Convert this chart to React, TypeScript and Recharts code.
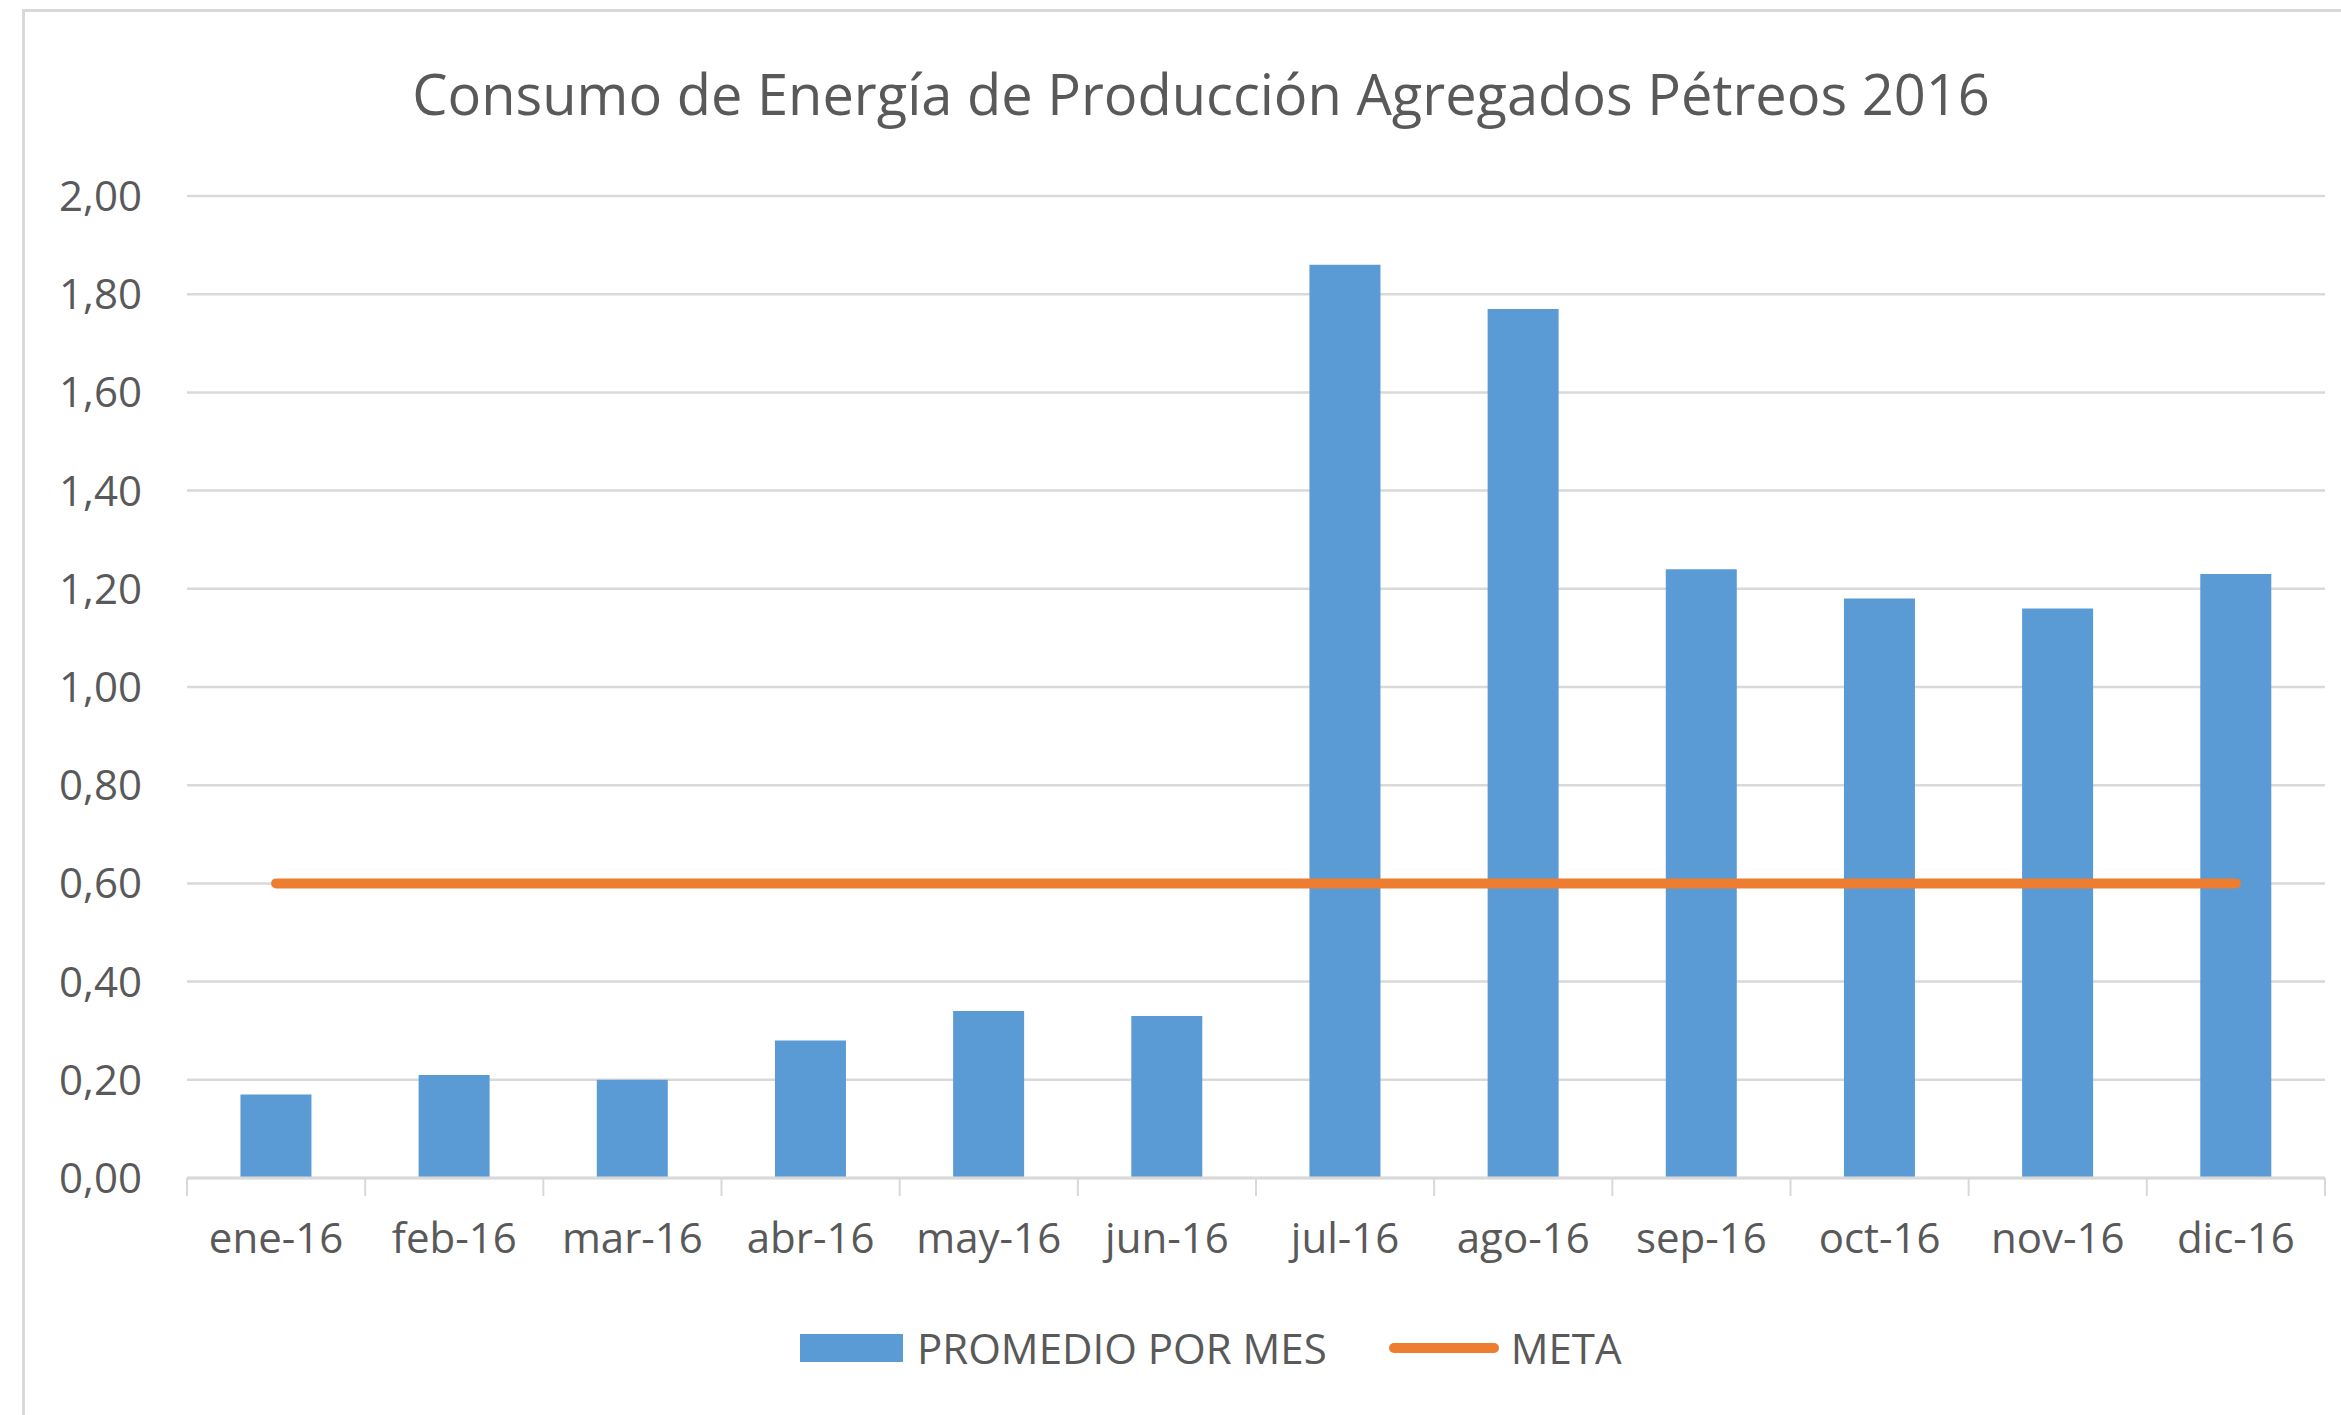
import {
    Bar,
    CartesianGrid,
    ComposedChart,
    Line,
    XAxis,
    YAxis,
} from "recharts";

// Consumo de energía por mes, 2016
const months = [
    "ene-16", "feb-16", "mar-16", "abr-16", "may-16", "jun-16",
    "jul-16", "ago-16", "sep-16", "oct-16", "nov-16", "dic-16",
];
const promedio = [0.17, 0.21, 0.2, 0.28, 0.34, 0.33, 1.86, 1.77, 1.24, 1.18, 1.16, 1.23];
const meta = [0.6, 0.6, 0.6, 0.6, 0.6, 0.6, 0.6, 0.6, 0.6, 0.6, 0.6, 0.6];
const yTicks = [0, 0.2, 0.4, 0.6, 0.8, 1.0, 1.2, 1.4, 1.6, 1.8, 2.0];

const title = "Consumo de Energía de Producción Agregados Pétreos 2016";
const seriesNames = ["PROMEDIO POR MES", "META"];

const data = months.map((m, i) => ({ month: m, promedio: promedio[i], meta: meta[i] }));

const BLUE = "#5B9BD5";
const ORANGE = "#ED7D31";
const GRID = "#d9d9d9";
const TEXT = "#595959";
const FONT = "'Open Sans', sans-serif";

// month label plus the small marks between categories (Excel style)
function MonthTick(props: any) {
    const { x, y, payload, index } = props;
    const half = payload && payload.offset ? payload.offset : 0;
    const last = index === months.length - 1;
    return (
        <g>
            {half > 0 && (
                <line x1={x - half} x2={x - half} y1={y} y2={y + 18} stroke={GRID} strokeWidth={2} />
            )}
            {half > 0 && last && (
                <line x1={x + half} x2={x + half} y1={y} y2={y + 18} stroke={GRID} strokeWidth={2} />
            )}
            <text
                x={x}
                y={y + 45}
                dy="0.71em"
                textAnchor="middle"
                fill={TEXT}
                fontSize={42}
                fontFamily={FONT}
            >
                {payload.value}
            </text>
        </g>
    );
}

export default function App() {
    return (
        <div
            style={{
                position: "absolute",
                left: 0,
                top: 0,
                width: 2341,
                height: 1415,
                background: "#fff",
                fontFamily: FONT,
                overflow: "hidden",
            }}
        >
            <div
                style={{
                    position: "absolute",
                    left: 22,
                    top: 9,
                    width: 2400,
                    height: 1500,
                    borderLeft: `3px solid ${GRID}`,
                    borderTop: `3px solid ${GRID}`,
                }}
            />
            <div
                style={{
                    position: "absolute",
                    left: 0,
                    width: 2402,
                    top: 65,
                    textAlign: "center",
                    fontSize: 56,
                    lineHeight: 1,
                    color: TEXT,
                    whiteSpace: "nowrap",
                }}
            >
                {title}
            </div>

            <ComposedChart
                width={2341}
                height={1415}
                data={data}
                margin={{ top: 196, right: 16, bottom: 0, left: 0 }}
                barCategoryGap="30%"
                style={{ position: "absolute", left: 0, top: 0 }}
            >
                <CartesianGrid vertical={false} stroke={GRID} strokeWidth={2.5} />
                <XAxis
                    dataKey="month"
                    height={237}
                    axisLine={{ stroke: GRID, strokeWidth: 3 }}
                    tickLine={false}
                    tickSize={0}
                    tickMargin={0}
                    interval={0}
                    tick={<MonthTick />}
                />
                <YAxis
                    width={187}
                    domain={[0, 2]}
                    ticks={yTicks}
                    axisLine={false}
                    tickLine={false}
                    tickSize={0}
                    tickMargin={45}
                    tickFormatter={(v) => Number(v).toFixed(2).replace(".", ",")}
                    tick={{ fill: TEXT, fontSize: 42, fontFamily: FONT }}
                />
                <Bar
                    dataKey="promedio"
                    name={seriesNames[0]}
                    fill={BLUE}
                    isAnimationActive={false}
                />
                <Line
                    dataKey="meta"
                    name={seriesNames[1]}
                    stroke={ORANGE}
                    strokeWidth={10}
                    strokeLinecap="round"
                    dot={false}
                    activeDot={false}
                    isAnimationActive={false}
                />
            </ComposedChart>

            <div
                style={{
                    position: "absolute",
                    left: 800,
                    top: 1327,
                    height: 42,
                    display: "flex",
                    alignItems: "center",
                    fontSize: 42,
                    lineHeight: 1,
                    color: TEXT,
                    whiteSpace: "nowrap",
                }}
            >
                <span style={{ width: 103, height: 28, background: BLUE, display: "inline-block" }} />
                <span style={{ marginLeft: 14 }}>{seriesNames[0]}</span>
                <span
                    style={{
                        marginLeft: 62,
                        width: 110,
                        height: 10,
                        borderRadius: 5,
                        background: ORANGE,
                        display: "inline-block",
                    }}
                />
                <span style={{ marginLeft: 12 }}>{seriesNames[1]}</span>
            </div>
        </div>
    );
}
